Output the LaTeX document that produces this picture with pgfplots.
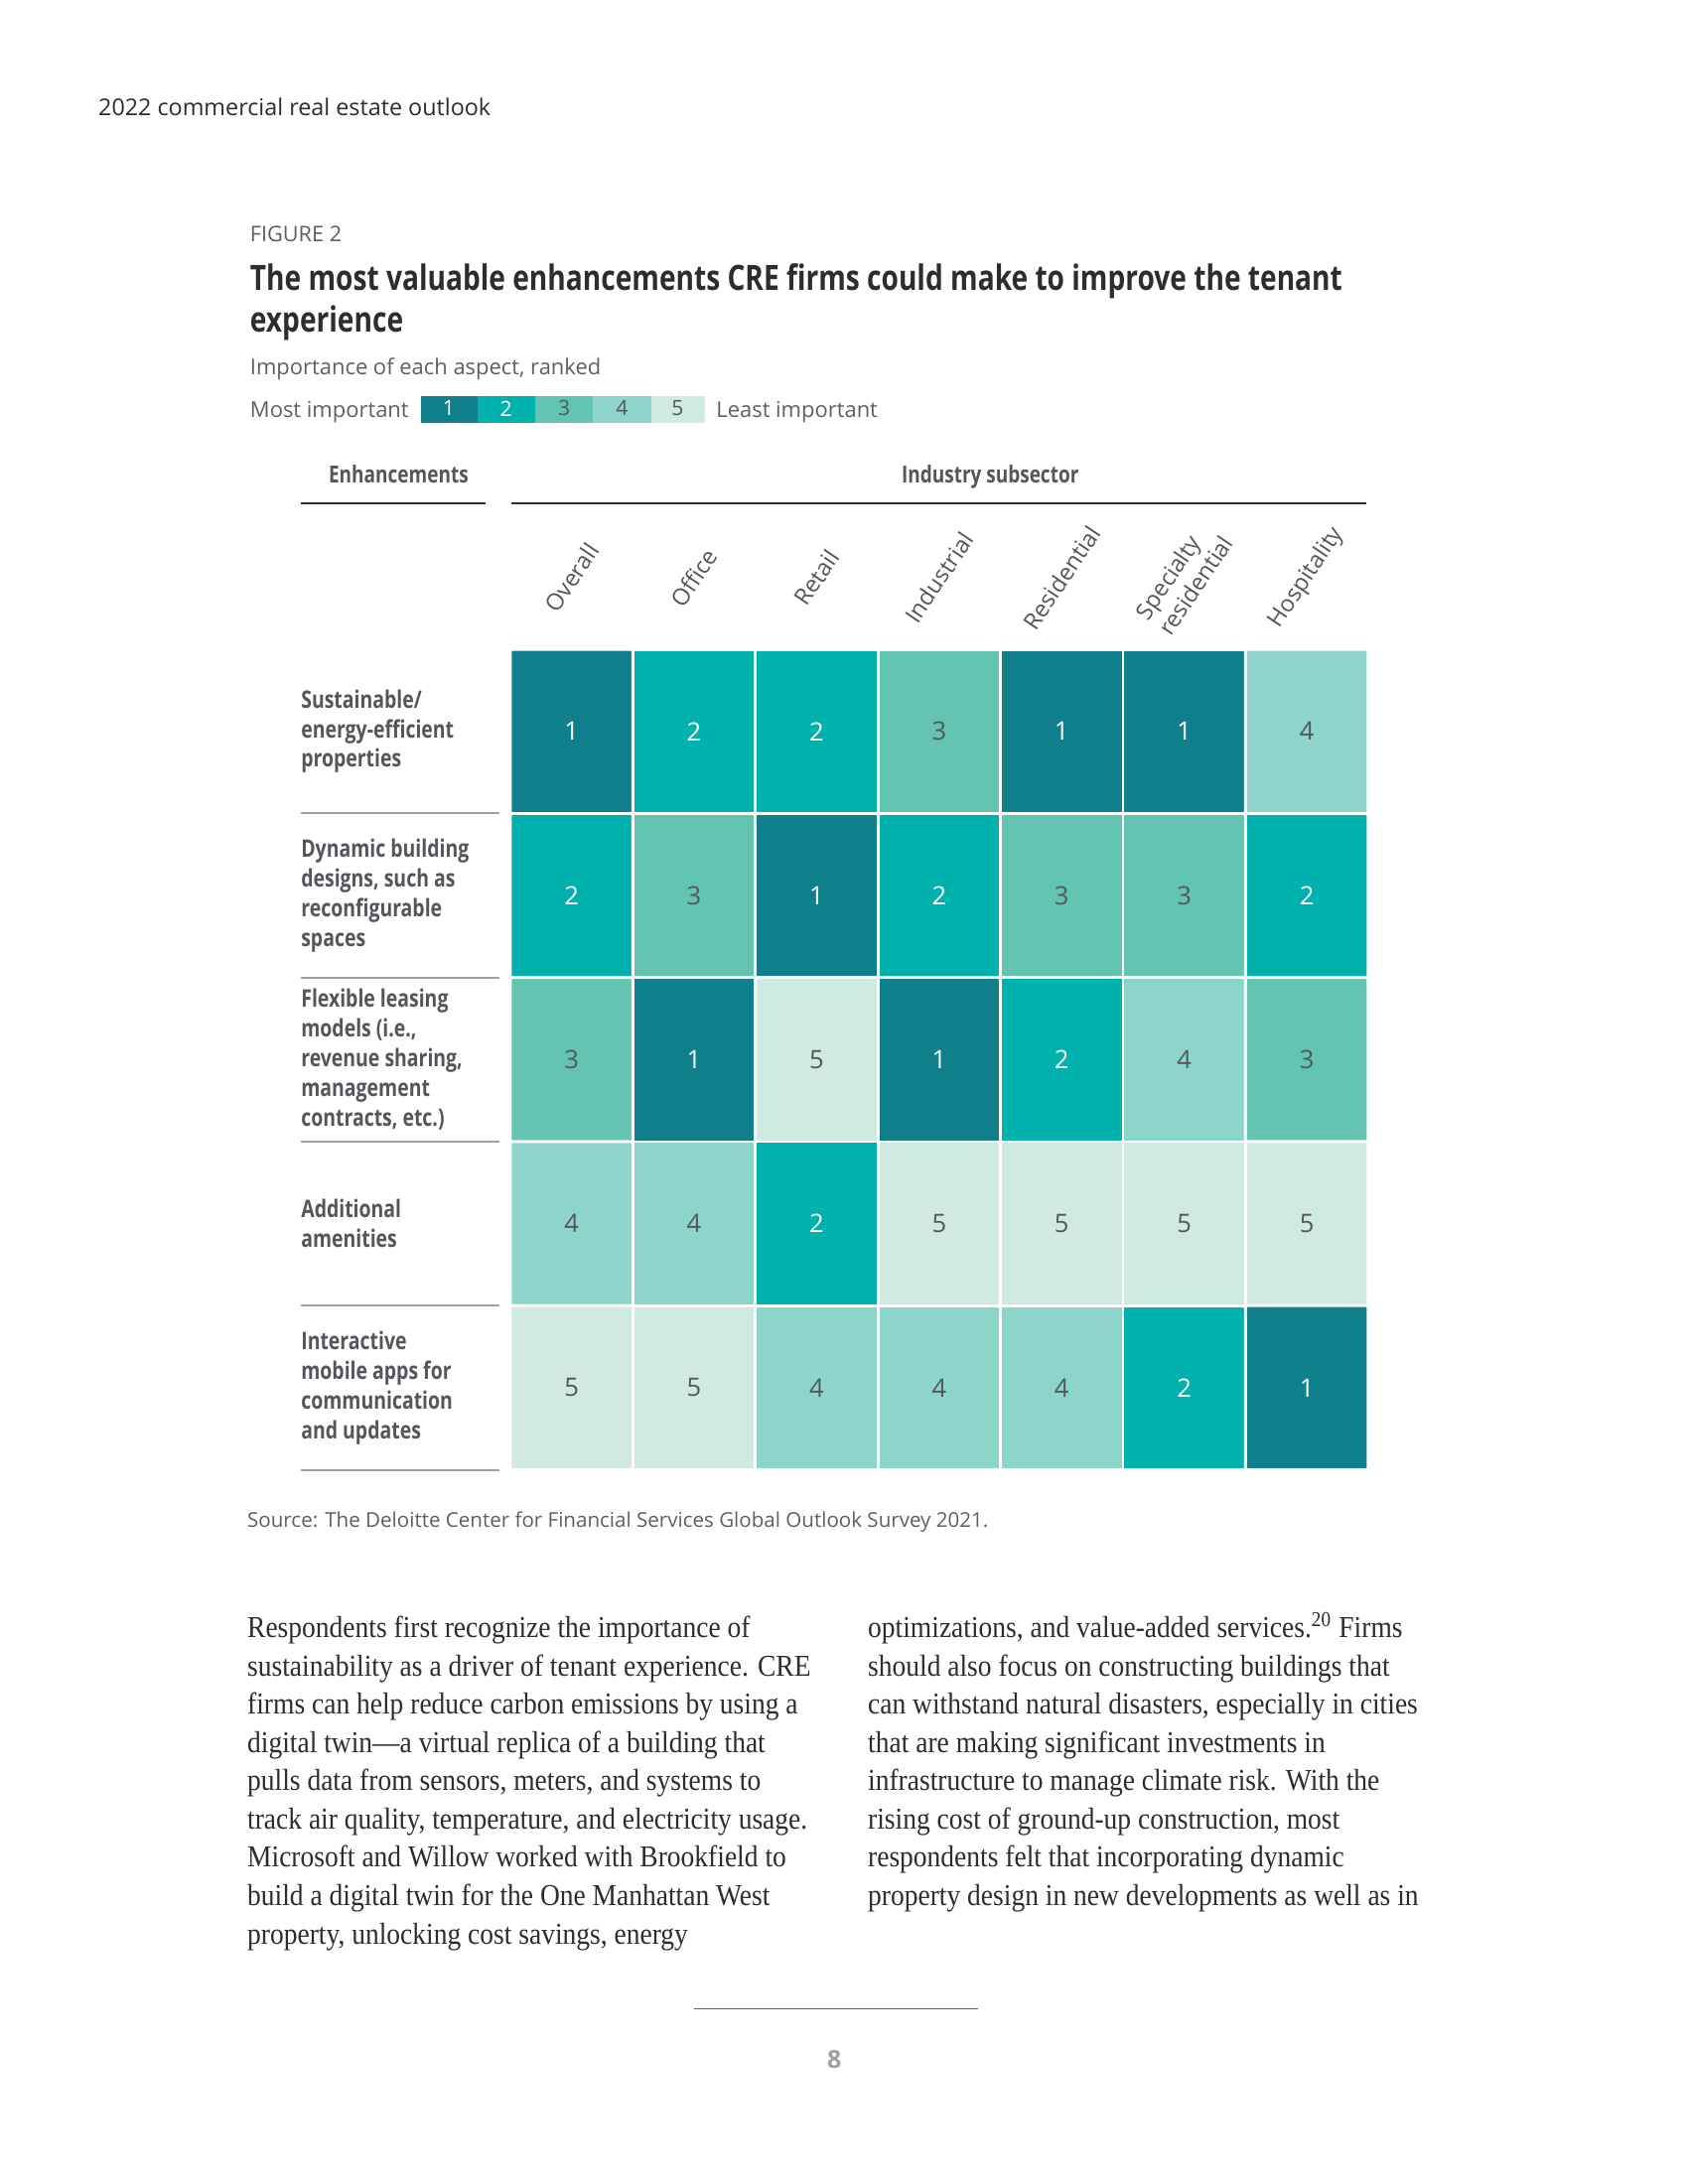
\documentclass[border=0pt]{standalone}
\usepackage{pgfplots}
\pgfplotsset{compat=1.18}
\usepackage{pgfplotstable}
\usepackage{fontspec}
\setmainfont{Open Sans}
\newfontfamily\cond[FakeStretch=0.8]{Open Sans}
\newfontfamily\bodyserif[FakeStretch=0.9]{Liberation Serif}

\definecolor{rankA}{RGB}{14,127,139}
\definecolor{rankB}{RGB}{0,177,174}
\definecolor{rankC}{RGB}{98,196,177}
\definecolor{rankD}{RGB}{141,212,203}
\definecolor{rankE}{RGB}{208,234,226}
\definecolor{ink}{RGB}{45,45,45}
\definecolor{mid}{RGB}{83,86,90}
\definecolor{soft}{RGB}{95,95,95}
\definecolor{rule}{RGB}{160,160,160}

% rank (r) of each enhancement in each subsector
% x = subsector (1 Overall ... 7 Hospitality), y = row from the bottom (5 = first row)
\pgfplotstableread{
x y r
1 5 1
2 5 2
3 5 2
4 5 3
5 5 1
6 5 1
7 5 4
1 4 2
2 4 3
3 4 1
4 4 2
5 4 3
6 4 3
7 4 2
1 3 3
2 3 1
3 3 5
4 3 1
5 3 2
6 3 4
7 3 3
1 2 4
2 2 4
3 2 2
4 2 5
5 2 5
6 2 5
7 2 5
1 1 5
2 1 5
3 1 4
4 1 4
5 1 4
6 1 2
7 1 1
}\ranks

\begin{document}
\begin{tikzpicture}
\fill[white] (0,0) rectangle (612pt,-792pt);
\useasboundingbox (0,0) rectangle (612pt,-792pt);

% page header
\node[anchor=base west, inner sep=0pt, font=\fontsize{8.4}{10}\selectfont, text=ink]
  at (35.5pt,-41.8pt) {2022 commercial real estate outlook};

% figure heading
\node[anchor=base west, inner sep=0pt, font=\fontsize{7.8}{9}\selectfont, text=soft]
  at (90.5pt,-87.8pt) {FIGURE 2};
\node[anchor=base west, inner sep=0pt, font=\cond\bfseries\fontsize{12.65}{15}\selectfont, text=ink]
  at (90.5pt,-105.3pt) {The most valuable enhancements CRE firms could make to improve the tenant};
\node[anchor=base west, inner sep=0pt, font=\cond\bfseries\fontsize{12.65}{15}\selectfont, text=ink]
  at (90.5pt,-120.3pt) {experience};
\node[anchor=base west, inner sep=0pt, font=\fontsize{7.9}{9}\selectfont, text=soft]
  at (90.5pt,-135.9pt) {Importance of each aspect, ranked};

% colour key
\node[anchor=base west, inner sep=0pt, font=\fontsize{7.9}{9}\selectfont, text=soft]
  at (90.5pt,-151.3pt) {Most important};
\fill[rankA] (152.5pt,-143.5pt) rectangle (173pt,-153.5pt);
\fill[rankB] (173pt,-143.5pt) rectangle (194pt,-153.5pt);
\fill[rankC] (194pt,-143.5pt) rectangle (215pt,-153.5pt);
\fill[rankD] (215pt,-143.5pt) rectangle (236pt,-153.5pt);
\fill[rankE] (236pt,-143.5pt) rectangle (255.5pt,-153.5pt);
\begin{scope}[every node/.style={inner sep=0pt, font=\fontsize{7.6}{9}\selectfont}]
\node[text=white] at (162.7pt,-148.1pt) {1};
\node[text=white] at (183.5pt,-148.1pt) {2};
\node[text=mid] at (204.5pt,-148.1pt) {3};
\node[text=mid] at (225.5pt,-148.1pt) {4};
\node[text=mid] at (245.7pt,-148.1pt) {5};
\end{scope}
\node[anchor=base west, inner sep=0pt, font=\fontsize{7.9}{9}\selectfont, text=soft]
  at (259.5pt,-151.3pt) {Least important};

% column group headers
\node[anchor=base, inner sep=0pt, font=\cond\bfseries\fontsize{8.55}{11}\selectfont, text=mid]
  at (144.5pt,-175pt) {Enhancements};
\node[anchor=base, inner sep=0pt, font=\cond\bfseries\fontsize{8.55}{11}\selectfont, text=mid]
  at (359pt,-175pt) {Industry subsector};
\draw[ink, line width=1pt] (109pt,-182.5pt) -- (176pt,-182.5pt);
\draw[ink, line width=1pt] (185.5pt,-182.5pt) -- (495.5pt,-182.5pt);

\begin{axis}[
  at={(185pt,-235.5pt)}, anchor=north west,
  scale only axis, width=311pt, height=297.5pt,
  xmin=0.5, xmax=7.5, ymin=0.5, ymax=5.5,
  axis on top,
  axis line style={draw=none}, major tick length=0pt,
  xtick={1,...,7}, xtick pos=right, xticklabel pos=right,
  xticklabels={Overall, Office, Retail, Industrial, Residential, {Specialty\\residential}, Hospitality},
  ytick={1,...,5},
  yticklabels={{Interactive\\mobile apps for\\communication\\and updates},
    {Additional\\amenities},
    {Flexible leasing\\models (i.e.,\\revenue sharing,\\management\\contracts, etc.)},
    {Dynamic building\\designs, such as\\reconfigurable\\spaces},
    {Sustainable/\\energy-efficient\\properties}},
  xticklabel style={font=\fontsize{8.4}{10}\selectfont, text=mid, align=left,
    yshift=26pt, rotate=56, anchor=center},
  yticklabel style={font=\cond\bfseries\fontsize{8.75}{10.75}\selectfont, text=mid,
    align=left, anchor=west, xshift=-76pt, inner xsep=0pt},
  colormap={ranks}{rgb255=(255,255,255) rgb255=(14,127,139) rgb255=(0,177,174)
    rgb255=(98,196,177) rgb255=(141,212,203) rgb255=(208,234,226)},
  colormap access=direct,
  clip=false,
]
\addplot[matrix plot*, mesh/cols=7, point meta=explicit, draw=white, line width=1pt]
  table[meta=r] {\ranks};
\addplot[draw=none, mark=none, point meta=explicit symbolic, nodes near coords,
  nodes near coords style={anchor=center, text=white, font=\fontsize{9.2}{9}\selectfont},
  y filter/.expression={\thisrow{r}<3 ? y : nan}]
  table[meta=r] {\ranks};
\addplot[draw=none, mark=none, point meta=explicit symbolic, nodes near coords,
  nodes near coords style={anchor=center, text=mid, font=\fontsize{9.2}{9}\selectfont},
  y filter/.expression={\thisrow{r}>2 ? y : nan}]
  table[meta=r] {\ranks};
\end{axis}

% row separators
\foreach \yy in {295,354.5,414,473.5,533}
  \draw[rule, line width=0.7pt] (109pt,-\yy pt) -- (181pt,-\yy pt);

% source
\node[anchor=base west, inner sep=0pt, font=\fontsize{7.4}{9}\selectfont, text=soft]
  at (89.5pt,-554pt) {Source: The Deloitte Center for Financial Services Global Outlook Survey 2021.};

% body text
\foreach \t [count=\i from 0] in {
  {Respondents first recognize the importance of},
  {sustainability as a driver of tenant experience. CRE},
  {firms can help reduce carbon emissions by using a},
  {digital twin—a virtual replica of a building that},
  {pulls data from sensors, meters, and systems to},
  {track air quality, temperature, and electricity usage.},
  {Microsoft and Willow worked with Brookfield to},
  {build a digital twin for the One Manhattan West},
  {property, unlocking cost savings, energy}}
  \node[anchor=base west, inner sep=0pt, font=\bodyserif\fontsize{11}{13}\selectfont, text=ink]
    at (89.5pt,-593.9pt-\i*13.875pt) {\t};
\foreach \t [count=\i from 0] in {
  {optimizations, and value-added services.\textsuperscript{20} Firms},
  {should also focus on constructing buildings that},
  {can withstand natural disasters, especially in cities},
  {that are making significant investments in},
  {infrastructure to manage climate risk. With the},
  {rising cost of ground-up construction, most},
  {respondents felt that incorporating dynamic},
  {property design in new developments as well as in}}
  \node[anchor=base west, inner sep=0pt, font=\bodyserif\fontsize{11}{13}\selectfont, text=ink]
    at (314.5pt,-593.9pt-\i*13.875pt) {\t};

% footer
\draw[soft, line width=0.6pt] (251.5pt,-728.5pt) -- (354.5pt,-728.5pt);
\node[anchor=base, inner sep=0pt, font=\bfseries\fontsize{9}{11}\selectfont, text=rule]
  at (302.5pt,-750.2pt) {8};
\end{tikzpicture}
\end{document}
